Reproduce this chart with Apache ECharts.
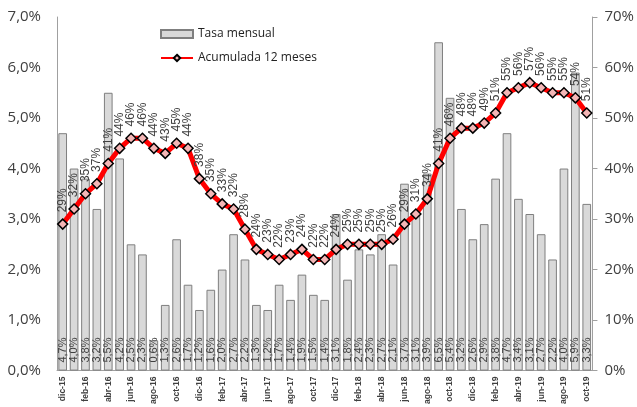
<!DOCTYPE html>
<html><head><meta charset="utf-8">
<script src="https://cdn.jsdelivr.net/npm/echarts@6/dist/echarts.min.js"></script>
<style>html,body{margin:0;padding:0;background:#fff}#c{width:637px;height:407px}</style>
</head><body><div id="c"></div>
<script>
const categories = ['dic-15','ene-16','feb-16','mar-16','abr-16','may-16','jun-16','jul-16','ago-16','sep-16','oct-16','nov-16',
'dic-16','ene-17','feb-17','mar-17','abr-17','may-17','jun-17','jul-17','ago-17','sep-17','oct-17','nov-17',
'dic-17','ene-18','feb-18','mar-18','abr-18','may-18','jun-18','jul-18','ago-18','sep-18','oct-18','nov-18',
'dic-18','ene-19','feb-19','mar-19','abr-19','may-19','jun-19','jul-19','ago-19','sep-19','oct-19'];
const tasaMensual = [4.7,4.0,3.8,3.2,5.5,4.2,2.5,2.3,0.6,1.3,2.6,1.7,
1.2,1.6,2.0,2.7,2.2,1.3,1.2,1.7,1.4,1.9,1.5,1.4,
3.1,1.8,2.4,2.3,2.7,2.1,3.7,3.1,3.9,6.5,5.4,3.2,
2.6,2.9,3.8,4.7,3.4,3.1,2.7,2.2,4.0,5.9,3.3];
const acumulada12 = [29,32,35,37,41,44,46,46,44,43,45,44,
38,35,33,32,28,24,23,22,23,24,22,22,
24,25,25,25,25,26,29,31,34,41,46,48,
48,49,51,55,56,57,56,55,55,54,51];
const leftTicks = [0,1,2,3,4,5,6,7];
const rightTicks = [0,10,20,30,40,50,60,70];

const FONT = "'Liberation Sans Narrow','Liberation Sans',sans-serif";
const chart = echarts.init(document.getElementById('c'));
chart.setOption({
  animation:false,
  backgroundColor:'#fff',
  textStyle:{fontFamily:FONT},
  grid:{left:57,right:44,top:17,bottom:31,containLabel:false},
  legend:{
    orient:'vertical', left:155, top:23, itemWidth:32, itemHeight:8, itemGap:12,
    textStyle:{fontFamily:"'Open Sans',sans-serif",fontSize:12,color:'#222'},
    data:[
      {name:'Tasa mensual',icon:'rect'},
      {name:'Acumulada 12 meses'}
    ]
  },
  xAxis:{
    type:'category', data:categories,
    axisLine:{lineStyle:{color:'#a0a0a0',width:1}},
    axisTick:{show:false},
    axisLabel:{rotate:90, interval:1, fontSize:8.5, fontWeight:'bold', color:'#404040', margin:6, fontFamily:FONT}
  },
  yAxis:[
    {type:'value', min:leftTicks[0], max:leftTicks[leftTicks.length-1], interval:1,
     splitLine:{show:false},
     axisLine:{show:true,lineStyle:{color:'#a0a0a0'}},
     axisTick:{show:false},
     axisLabel:{fontSize:15, color:'#404040', margin:16, fontFamily:"'Open Sans',sans-serif",
       formatter:v=>v.toFixed(1).replace('.',',')+'%'}},
    {type:'value', min:rightTicks[0], max:rightTicks[rightTicks.length-1], interval:10,
     splitLine:{show:false},
     axisLine:{show:true,lineStyle:{color:'#a0a0a0'}},
     axisTick:{show:true,length:5,lineStyle:{color:'#a0a0a0'}},
     axisLabel:{fontSize:15, color:'#404040', margin:12, fontFamily:"'Open Sans',sans-serif",
       formatter:v=>v+'%'}}
  ],
  series:[
    {name:'Tasa mensual', type:'bar', yAxisIndex:0, data:tasaMensual,
     barCategoryGap:'24%',
     itemStyle:{color:'#d9d9d9', borderColor:'#7f7f7f', borderWidth:1},
     label:{show:true, position:'insideBottom', rotate:90, align:'left', verticalAlign:'middle',
       distance:8, fontSize:11, color:'#404040', fontFamily:FONT,
       formatter:p=>p.value.toFixed(1).replace('.',',')+'%'}
    },
    {name:'Acumulada 12 meses', type:'line', yAxisIndex:1, data:acumulada12,
     z:5,
     lineStyle:{color:'#ff0000', width:5},
     itemStyle:{color:'#f4b6b6', borderColor:'#000', borderWidth:1.5},
     symbol:'diamond', symbolSize:10, showAllSymbol:true,
     label:{show:true, position:'top', rotate:90, align:'left', verticalAlign:'middle',
       distance:6, fontSize:12, color:'#404040', fontFamily:FONT,
       formatter:p=>p.value+'%'}
    }
  ]
});
</script></body></html>
